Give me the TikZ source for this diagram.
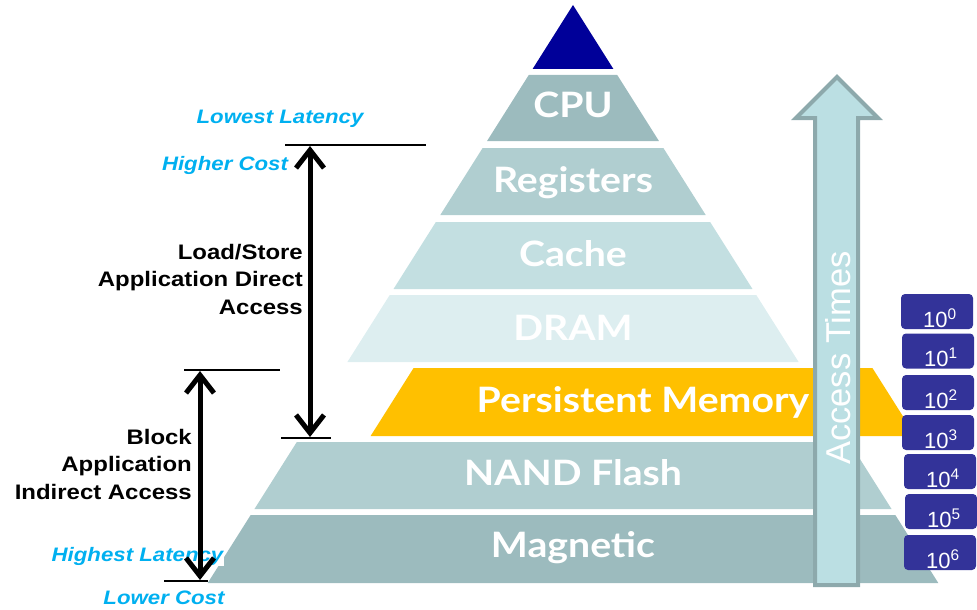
\documentclass[tikz,border=0pt]{standalone}
\usepackage{fontspec}
\usetikzlibrary{arrows.meta}

\newfontfamily\pyrfont[FakeStretch=1.12]{Lato}
\newfontfamily\lblfont[FakeStretch=1.14]{Liberation Sans}
\newfontfamily\axfont{Liberation Sans}

\definecolor{apexblue}{HTML}{000099}
\definecolor{cpuband}{HTML}{9CBBBE}
\definecolor{regband}{HTML}{B0CED0}
\definecolor{cacheband}{HTML}{C3DFE1}
\definecolor{dramband}{HTML}{DDEEF0}
\definecolor{pmband}{HTML}{FFC000}
\definecolor{nandband}{HTML}{B0CED0}
\definecolor{magband}{HTML}{9CBBBE}
\definecolor{arrowfill}{HTML}{BBDFE3}
\definecolor{arrowedge}{HTML}{8DA9AC}
\definecolor{expblue}{HTML}{333399}
\definecolor{cyanlbl}{HTML}{00B0F0}

% one horizontal slice of the pyramid: top y, bottom y, x offset, colour
\newcommand\pyband[4]{%
  \pgfmathsetmacro\pbwt{0.632*(#1-5)}%
  \pgfmathsetmacro\pbwb{0.632*(#2-5)}%
  \fill[#4] ({573+#3-\pbwt},#1) -- ({573+#3+\pbwt},#1) -- ({573+#3+\pbwb},#2) -- ({573+#3-\pbwb},#2) -- cycle;
}

\tikzset{
  bandtext/.style={text=white, font=\pyrfont\bfseries\fontsize{35}{35}\selectfont, anchor=base, inner sep=0pt},
  hint/.style={text=cyanlbl, font=\lblfont\bfseries\itshape\fontsize{19.5}{20}\selectfont, inner sep=1pt},
  note/.style={font=\lblfont\bfseries\fontsize{21}{27.5}\selectfont, align=right, anchor=east, inner sep=0pt},
  tick/.style={line width=2pt},
  barb/.tip={Straight Barb[length=18pt,width=28pt,line width=5pt]},
  span/.style={line width=5pt, barb-barb},
  expbox/.style={fill=expblue, rounded corners=4pt, minimum width=72pt, minimum height=35pt, inner sep=0pt},
  exptext/.style={text=white, font=\axfont\fontsize{22}{22}\selectfont, anchor=base, inner sep=0pt},
}

\begin{document}
\begin{tikzpicture}[x=1pt, y=-1pt]
\useasboundingbox (0,0) rectangle (977,610);

% pyramid
\fill[apexblue] (573,5) -- (613.4,69) -- (532.6,69) -- cycle;
\pyband{75}{141}{0}{cpuband}
\pyband{148}{215}{0}{regband}
\pyband{222}{289}{0}{cacheband}
\pyband{295}{362}{0}{dramband}
\pyband{368}{436}{70}{pmband}
\pyband{442}{509}{0}{nandband}
\pyband{515}{583}{0}{magband}

\node[bandtext] (cpu) at (573,117.5) {CPU};
\node[bandtext] (regs) at (573,192.5) {Registers};
\node[bandtext] (cache) at (573,266) {Cache};
\node[bandtext] (dram) at (573,340) {DRAM};
\node[bandtext] (pmem) at (643,412.5) {Persistent Memory};
\node[bandtext] (nand) at (573,485) {NAND Flash};
\node[bandtext] (mag) at (573,557) {Magnetic};

% access-time arrow
\draw[line width=4pt, draw=arrowedge, fill=arrowfill, line join=miter]
  (815,585) -- (815,118) -- (796,118) -- (837,77) -- (878,118) -- (858,118) -- (858,585) -- cycle;
\node[rotate=90, text=white, font=\axfont\fontsize{34.5}{34.5}\selectfont, inner sep=0pt] (atimes) at (838,358) {Access Times};

% orders of magnitude
\foreach \i/\bx/\by in {0/937/311.5, 1/938/351, 2/938/392.5, 3/938/432.5, 4/940/471.5, 5/941/511.5, 6/940/552.5}{
  \node[expbox] (e\i) at (\bx,\by) {};
  \node[exptext] (t\i) at ([xshift=3pt, yshift=-15.5pt]e\i.center) {10\textsuperscript{\i}};
}

% left annotations
\node[hint] (lowlat) at (280,119) {Lowest Latency};
\node[hint] (highcost) at (225,165) {Higher Cost};
\node[note] (direct) at (303,279) {Load/Store\\Application Direct\\Access};
\node[note] (indirect) at (192,464) {Block\\Application\\Indirect Access};
\node[hint, fill=white] (highlat) at (137.5,556) {Highest Latency};
\node[hint] (lowcost) at (164,598) {Lower Cost};

\coordinate (t1a) at (285,145);  \coordinate (t1b) at (426,145);
\coordinate (t2a) at (281,438);  \coordinate (t2b) at (331,438);
\coordinate (t3a) at (184,370);  \coordinate (t3b) at (280,370);
\coordinate (t4a) at (164,581);  \coordinate (t4b) at (208,581);
\draw[tick] (t1a) -- (t1b);
\draw[tick] (t2a) -- (t2b);
\draw[tick] (t3a) -- (t3b);
\draw[tick] (t4a) -- (t4b);

\coordinate (d1top) at (310,146);  \coordinate (d1bot) at (310,437);
\coordinate (d2top) at (200,371);  \coordinate (d2bot) at (200,580);
\draw[span] (d1top) -- (d1bot);
\draw[span] (d2top) -- (d2bot);
\end{tikzpicture}
\end{document}
